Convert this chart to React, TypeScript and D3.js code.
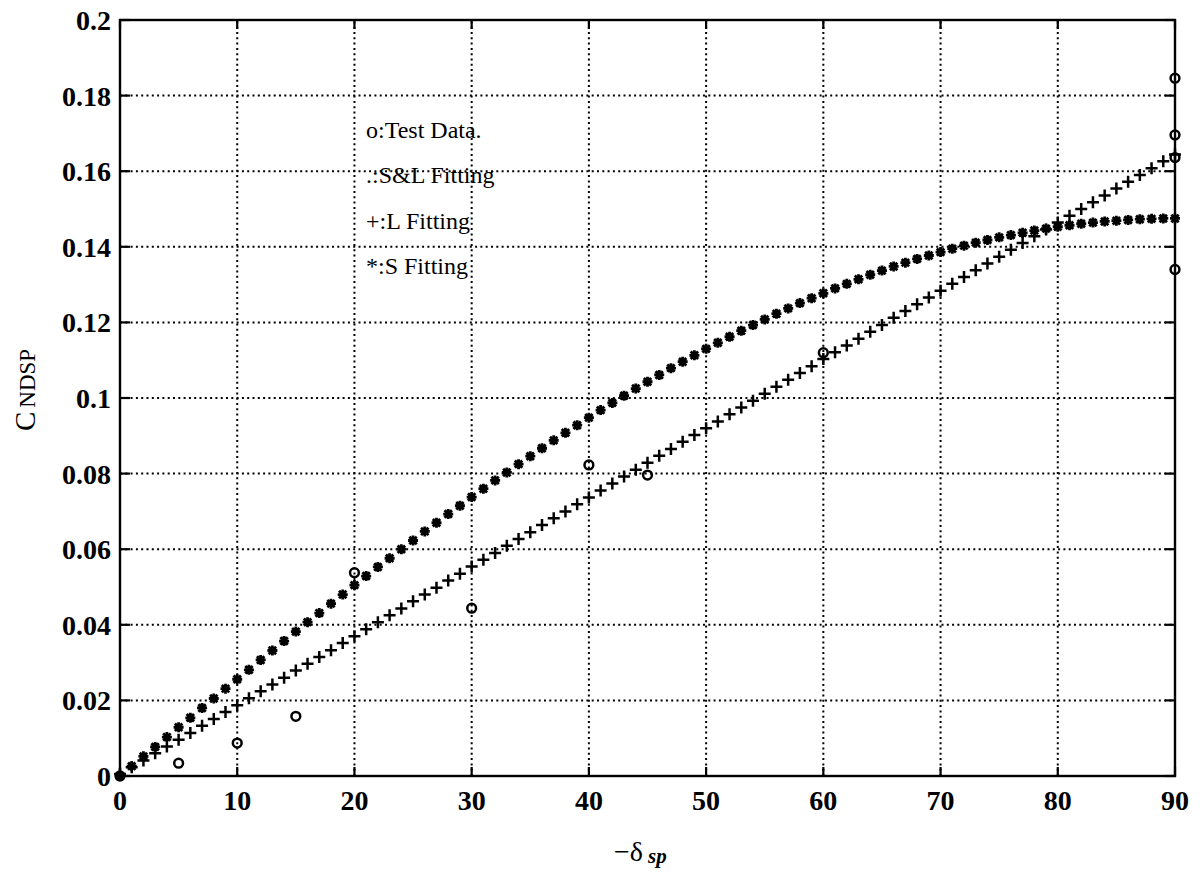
import React from 'react';
import * as d3 from 'd3';

const W = 1200;
const H = 873;

// Axis ticks
const xTicks = [0, 10, 20, 30, 40, 50, 60, 70, 80, 90];
const yTicks = [0, 0.02, 0.04, 0.06, 0.08, 0.1, 0.12, 0.14, 0.16, 0.18, 0.2];
const yTickLabels = ['0', '0.02', '0.04', '0.06', '0.08', '0.1', '0.12', '0.14', '0.16', '0.18', '0.2'];

// Test data (deflection in degrees, coefficient)
const testDeg = [0, 5, 10, 15, 20, 30, 40, 45, 60, 90, 90, 90, 90];
const testC = [0, 0.0034, 0.0087, 0.0158, 0.0538, 0.0444, 0.0823, 0.0796, 0.112, 0.1846, 0.1696, 0.1636, 0.134];

// S fitting, one value per degree from 0 to 90
const sFitC = [
  0, 0.0026, 0.0052, 0.0077, 0.0103, 0.0129, 0.0154, 0.018, 0.0205, 0.0231,
  0.0256, 0.0281, 0.0307, 0.0332, 0.0357, 0.0382, 0.0407, 0.0431, 0.0456, 0.048,
  0.0505, 0.0529, 0.0553, 0.0576, 0.06, 0.0623, 0.0647, 0.067, 0.0693, 0.0715,
  0.0738, 0.076, 0.0782, 0.0803, 0.0825, 0.0846, 0.0867, 0.0888, 0.0908, 0.0928,
  0.0948, 0.0968, 0.0987, 0.1006, 0.1025, 0.1043, 0.1061, 0.1079, 0.1096, 0.1113,
  0.113, 0.1146, 0.1162, 0.1178, 0.1193, 0.1208, 0.1223, 0.1237, 0.1251, 0.1264,
  0.1277, 0.129, 0.1302, 0.1314, 0.1326, 0.1337, 0.1348, 0.1358, 0.1368, 0.1377,
  0.1386, 0.1395, 0.1403, 0.1411, 0.1418, 0.1425, 0.1431, 0.1437, 0.1443, 0.1448,
  0.1453, 0.1457, 0.1461, 0.1464, 0.1467, 0.1469, 0.1471, 0.1473, 0.1474, 0.1475,
  0.1475,
];

// L fitting, one value per degree from 0 to 90
const lFitC = [
  0.0005, 0.0023, 0.0041, 0.006, 0.0078, 0.0096, 0.0114, 0.0133, 0.0151, 0.0169,
  0.0187, 0.0206, 0.0224, 0.0242, 0.026, 0.0279, 0.0297, 0.0315, 0.0333, 0.0352,
  0.037, 0.0388, 0.0407, 0.0425, 0.0443, 0.0462, 0.048, 0.0498, 0.0517, 0.0535,
  0.0554, 0.0572, 0.059, 0.0609, 0.0627, 0.0645, 0.0664, 0.0682, 0.07, 0.0719,
  0.0737, 0.0755, 0.0774, 0.0792, 0.081, 0.0829, 0.0847, 0.0865, 0.0884, 0.0902,
  0.092, 0.0938, 0.0957, 0.0975, 0.0993, 0.1011, 0.103, 0.1048, 0.1066, 0.1084,
  0.1103, 0.1121, 0.1139, 0.1157, 0.1175, 0.1193, 0.1212, 0.123, 0.1248, 0.1266,
  0.1284, 0.1302, 0.132, 0.1338, 0.1356, 0.1374, 0.1392, 0.141, 0.1428, 0.1446,
  0.1464, 0.1482, 0.15, 0.1518, 0.1536, 0.1554, 0.1572, 0.159, 0.1608, 0.1626,
  0.1644,
];

const legendLines = ['o:Test Data.', '.:S&L Fitting', '+:L Fitting', '*:S Fitting'];

const FONT = '"Liberation Serif", "Times New Roman", serif';

export default function App() {
  const x = d3.scaleLinear().domain([0, 90]).range([120, 1175]);
  const y = d3.scaleLinear().domain([0, 0.2]).range([776, 20]);
  const [x0, x1] = x.range();
  const [y0, y1] = y.range();

  const grid = { stroke: '#000', strokeWidth: 2, strokeDasharray: '2,3.3' };

  const starPath = (cx: number, cy: number) => {
    const r = 5;
    const d = 3.7;
    return `M${cx - r},${cy}L${cx + r},${cy}M${cx},${cy - r}L${cx},${cy + r}` +
      `M${cx - d},${cy - d}L${cx + d},${cy + d}M${cx - d},${cy + d}L${cx + d},${cy - d}`;
  };
  const plusPath = (cx: number, cy: number) => {
    const r = 6;
    return `M${cx - r},${cy}L${cx + r},${cy}M${cx},${cy - r}L${cx},${cy + r}`;
  };

  return (
    <svg width={W} height={H} style={{ position: 'absolute', left: 0, top: 0, background: '#fff' }}
      fontFamily={FONT}>
      <rect x={0} y={0} width={W} height={H} fill="#fff" />

      {/* dotted grid */}
      {xTicks.filter(t => t > 0 && t < 90).map(t => (
        <line key={'gx' + t} x1={x(t)} x2={x(t)} y1={y0} y2={y1} {...grid} />
      ))}
      {yTicks.filter(t => t > 0 && t < 0.2).map(t => (
        <line key={'gy' + t} x1={x0} x2={x1} y1={y(t)} y2={y(t)} {...grid} />
      ))}

      {/* frame */}
      <rect x={x0} y={y1} width={x1 - x0} height={y0 - y1} fill="none" stroke="#000" strokeWidth={2.4} />

      {/* inward ticks */}
      {xTicks.map(t => (
        <g key={'tx' + t} stroke="#000" strokeWidth={2.2}>
          <line x1={x(t)} x2={x(t)} y1={y0} y2={y0 - 9} />
          <line x1={x(t)} x2={x(t)} y1={y1} y2={y1 + 9} />
        </g>
      ))}
      {yTicks.map(t => (
        <g key={'ty' + t} stroke="#000" strokeWidth={2.2}>
          <line x1={x0} x2={x0 + 10} y1={y(t)} y2={y(t)} />
          <line x1={x1} x2={x1 - 10} y1={y(t)} y2={y(t)} />
        </g>
      ))}

      {/* tick labels */}
      {xTicks.map(t => (
        <text key={'lx' + t} x={x(t)} y={810} textAnchor="middle" fontSize={28} fontWeight="bold">{t}</text>
      ))}
      {yTicks.map((t, i) => (
        <text key={'ly' + t} x={111} y={y(t) + 10} textAnchor="end" fontSize={28} fontWeight="bold">{yTickLabels[i]}</text>
      ))}

      {/* S fitting */}
      <path d={sFitC.map((v, i) => starPath(x(i), y(v))).join('')} stroke="#000" strokeWidth={2.8} fill="none" />
      {/* L fitting */}
      <path d={lFitC.map((v, i) => plusPath(x(i), y(v))).join('')} stroke="#000" strokeWidth={2.5} fill="none" />
      {/* test data */}
      {testDeg.map((d, i) => (
        <circle key={'td' + i} cx={x(d)} cy={y(testC[i])} r={4.4} fill="none" stroke="#000" strokeWidth={2.5} />
      ))}

      {/* legend */}
      {legendLines.map((s, i) => (
        <text key={'lg' + i} x={366} y={138 + i * 45.3} fontSize={24}>{s}</text>
      ))}

      {/* axis titles */}
      <text transform="translate(35,431) rotate(-90)" fontSize={29}>
        <tspan>C</tspan>
        <tspan dx={4} fontSize={23}>NDSP</tspan>
      </text>
      <text x={614} y={861} fontSize={28}>
        <tspan>−δ</tspan>
        <tspan dx={5} dy={2} fontSize={21} fontStyle="italic" fontWeight="bold">sp</tspan>
      </text>
    </svg>
  );
}
